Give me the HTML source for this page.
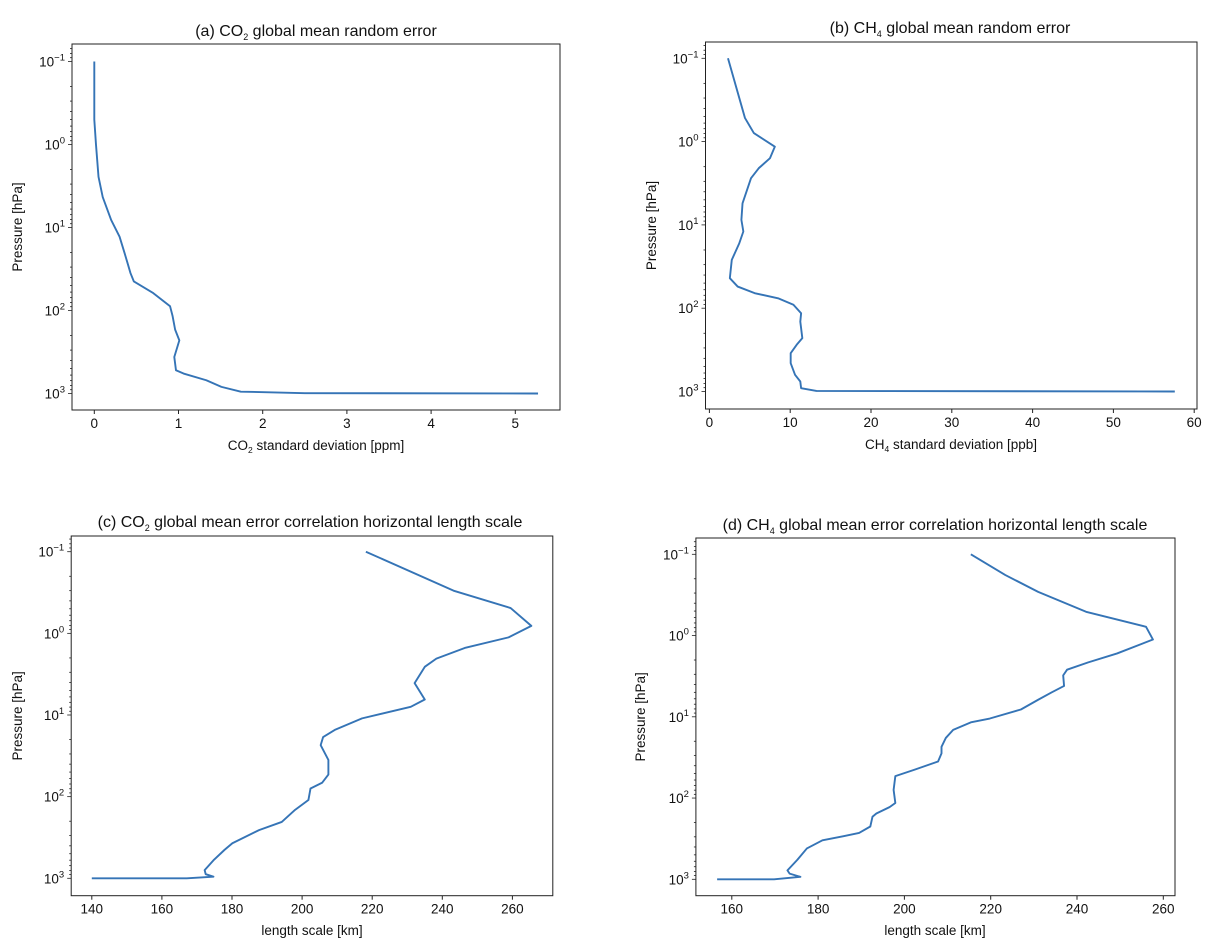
<!DOCTYPE html>
<html><head><meta charset="utf-8">
<style>
html,body{margin:0;padding:0;background:#fff;}
svg{display:block;font-family:"Liberation Sans","DejaVu Sans",sans-serif;}
</style></head>
<body>
<svg id="fig" width="1227" height="939" viewBox="0 0 1227 939" xmlns="http://www.w3.org/2000/svg"></svg>
<script>
// Panel (a) CO2 random error
const aValues = [0,0,0.02,0.05,0.1,0.2,0.3,0.36,0.43,0.47,0.7,0.9,0.93,0.96,1.01,0.95,0.97,1.06,1.33,1.51,1.74,2.5,5.27];
const aPressure = [0.1,0.5,1,2.45,4.3,8.1,12.9,20.4,35.5,44.7,61.7,89,117,170,229,363,525,575,692,832,950,990,1000];
const aTicks = [0,1,2,3,4,5];
// Panel (b) CH4 random error
const bValues = [2.3,4.4,5.5,8.1,7.5,6.1,5.15,4.1,3.96,4.2,3.7,2.77,2.53,3.5,5.6,8.5,10.4,11.35,11.25,11.5,10.8,10.06,10.06,10.6,11.25,11.35,13.25,57.6];
const bPressure = [0.1,0.52,0.79,1.15,1.58,2.09,2.75,5.5,8.7,12,16.6,26.3,43.6,55,66,76,91,115,145,229,275,347,457,631,759,912,985,1000];
const bTicks = [0,10,20,30,40,50,60];
// Panel (c) CO2 length scale
const cValues = [218.2,243.2,259.5,265.4,258.9,246.4,238.3,235,232.1,235,231,217.1,209.5,206,205.3,207.5,207.5,205.7,202.4,201.8,198,194.2,187.7,180.1,177.9,174.7,172.2,172.5,174.7,167.1,140];
const cPressure = [0.1,0.3,0.49,0.81,1.12,1.51,2.04,2.57,4.07,6.46,7.94,11,15.1,18.6,23.4,35.5,53.7,67.6,79.4,110,145,204,257,372,447,603,794,891,955,1000,1000];
const cTicks = [140,160,180,200,220,240,260];
// Panel (d) CH4 length scale
const dValues = [215.4,223.4,231,242.1,256,257.6,249.3,242.6,237.7,236.8,237,234.1,231,227,219.8,215.4,211.3,209.6,208.6,208.6,207.8,202.4,197.9,197.5,197.9,196.6,193.5,192.6,192.1,189.5,185.9,181,177.4,175.2,172.9,173.4,175.9,169.8,156.6];
const dPressure = [0.1,0.18,0.29,0.51,0.78,1.12,1.66,2.14,2.63,3.09,4.17,5.01,6.17,8.13,10.5,11.7,14.5,18.2,23.4,28.2,35.5,44.7,53.7,79.4,115,129,155,170,224,269,295,331,417,575,776,851,933,1000,1000];
const dTicks = [160,180,200,220,240,260];
const yTickExps = [-1,0,1,2,3];

const NS = "http://www.w3.org/2000/svg";
const svg = document.getElementById('fig');
function mk(tag, attrs, parent){ const e=document.createElementNS(NS,tag); for(const k in attrs) e.setAttribute(k,attrs[k]); (parent||svg).appendChild(e); return e; }

const panels = [
 {id:'a', vals:aValues, pres:aPressure, ticks:aTicks, box:[72,44,560,410], x0v:0, x0p:94.3, xk:84.2, yTop:61.5, dec:83,
  title:['(a) CO','2',' global mean random error'], tx:316, ty:36, xl:['CO','2',' standard deviation [ppm]'], xlx:316, xly:450, ylx:22},
 {id:'b', vals:bValues, pres:bPressure, ticks:bTicks, box:[705.5,42,1197,409], x0v:0, x0p:709.4, xk:8.08, yTop:58.3, dec:83.3,
  title:['(b) CH','4',' global mean random error'], tx:950, ty:33, xl:['CH','4',' standard deviation [ppb]'], xlx:951, xly:449, ylx:656},
 {id:'c', vals:cValues, pres:cPressure, ticks:cTicks, box:[71.2,536,552.8,895.7], x0v:140, x0p:91.8, xk:3.505, yTop:551.7, dec:81.65,
  title:['(c) CO','2',' global mean error correlation horizontal length scale'], tx:310, ty:527, xl:['length scale [km]','',''], xlx:312, xly:935, ylx:22},
 {id:'d', vals:dValues, pres:dPressure, ticks:dTicks, box:[695.9,538,1175,895.7], x0v:160, x0p:731.8, xk:4.315, yTop:554.3, dec:81.25,
  title:['(d) CH','4',' global mean error correlation horizontal length scale'], tx:935, ty:530, xl:['length scale [km]','',''], xlx:935, xly:935, ylx:645}
];

panels.forEach(P=>{
  const g = mk('g',{});
  
  
  const [L,T,R,B] = P.box;
  const xS = v => P.x0p + (v-P.x0v)*P.xk;
  const yS = p => P.yTop + (Math.log10(p)+1)*P.dec;
  let d='';
  P.vals.forEach((v,i)=>{ d += (i?'L':'M')+xS(v).toFixed(2)+','+yS(P.pres[i]).toFixed(2); });
  const line = mk('path',{d:d,fill:'none',stroke:'#3574b6','stroke-width':1.9,'stroke-linejoin':'round'},g);
  
  
  const fr = mk('rect',{x:L,y:T,width:R-L,height:B-T,fill:'none',stroke:'#222','stroke-width':1},g);
  
  
  P.ticks.forEach(t=>{
    const x=xS(t);
    mk('line',{x1:x,y1:B,x2:x,y2:B+4,stroke:'#222','stroke-width':1},g);
    const tx = mk('text',{x:x,y:B+18,'font-size':13.5,'text-anchor':'middle',fill:'#111'},g);
    tx.textContent = String(t);
    
    
  });
  for(let e=-2;e<=3;e++){
    for(let m=1;m<=9;m++){
      const p=m*Math.pow(10,e); const y=yS(p);
      if(y<T||y>B) continue;
      mk('line',{x1:L,y1:y,x2:L-(m===1?4:2),y2:y,stroke:'#222','stroke-width':0.8},g);
    }
  }
  yTickExps.forEach(e=>{
    const y=yS(Math.pow(10,e));
    const tx = mk('text',{x:L-7,y:y+5,'font-size':13.5,'text-anchor':'end',fill:'#111'},g);
    
    
    tx.appendChild(document.createTextNode('10'));
    const sp = mk('tspan',{dy:-6,'font-size':9.5},tx);
    sp.textContent = e<0 ? '\u2212'+Math.abs(e) : String(e);
  });
  const ti = mk('text',{x:P.tx,y:P.ty,'font-size':16,'text-anchor':'middle',fill:'#111'},g);
  
  
  ti.appendChild(document.createTextNode(P.title[0]));
  const s1 = mk('tspan',{dy:4,'font-size':9},ti); s1.textContent=P.title[1];
  const s2 = mk('tspan',{dy:-4},ti); s2.textContent=P.title[2];
  const xl = mk('text',{x:P.xlx,y:P.xly,'font-size':13.5,'text-anchor':'middle',fill:'#111'},g);
  
  
  xl.appendChild(document.createTextNode(P.xl[0]));
  if(P.xl[1]){
    const a1 = mk('tspan',{dy:3,'font-size':8.5},xl); a1.textContent=P.xl[1];
    const a2 = mk('tspan',{dy:-3},xl); a2.textContent=P.xl[2];
  }
  const cy=(T+B)/2;
  const yl = mk('text',{x:P.ylx,y:cy,'font-size':13.5,'text-anchor':'middle',fill:'#111',transform:'rotate(-90 '+P.ylx+' '+cy+')'},g);
  
  
  yl.textContent='Pressure [hPa]';
});
</script>
</body></html>
